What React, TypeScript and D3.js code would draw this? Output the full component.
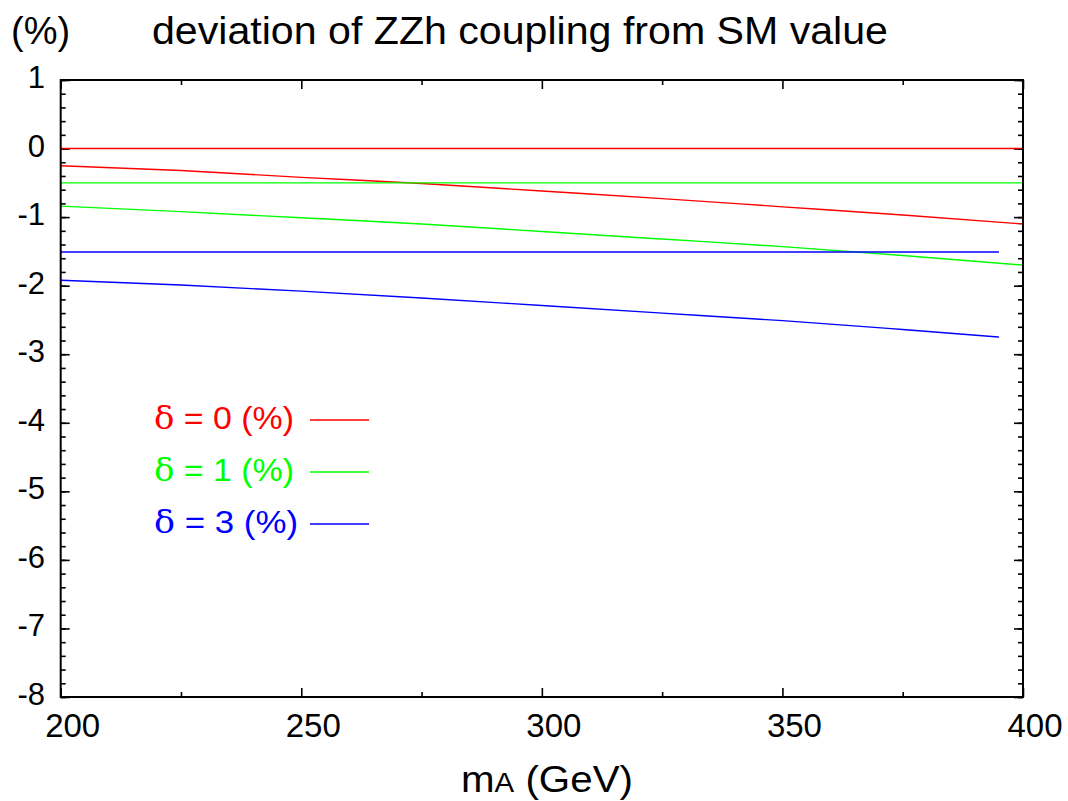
import React, { useEffect, useRef } from 'react'
import * as d3 from 'd3'

// m_A grid (GeV)
const massGrid = [200, 225, 250, 275, 300, 325, 350, 375, 400]
const massGridBlue = [200, 225, 250, 275, 300, 325, 350, 375, 395]

// deviation (%)
const red0Curve = [-0.25, -0.32, -0.42, -0.51, -0.62, -0.73, -0.85, -0.97, -1.1]
const green1Curve = [-0.84, -0.92, -1.01, -1.1, -1.21, -1.32, -1.43, -1.56, -1.7]
const blue3Curve = [-1.92, -1.99, -2.08, -2.18, -2.29, -2.4, -2.51, -2.64, -2.75]

// flat reference lines
const red0Flat = [0, 0]
const green1Flat = [-0.5, -0.5]
const blue3Flat = [-1.51, -1.51]
const flatX = [200, 400]
const flatXBlue = [200, 395]

const xTicks = [200, 250, 300, 350, 400]
const yTicks = [1, 0, -1, -2, -3, -4, -5, -6, -7, -8]

const legendLabels = ['0', '1', '3']
const colors = ['#ff0000', '#00ff00', '#0000ff']

const FONT = "'Liberation Sans', Arial, Helvetica, sans-serif"

export default function App() {
  const ref = useRef<SVGSVGElement>(null)

  useEffect(() => {
    const svg = d3.select(ref.current)
    svg.selectAll('*').remove()

    const left = 60.7, right = 1023, top = 80, bottom = 697
    const x = d3.scaleLinear().domain([200, 400]).range([left, right])
    const y = d3.scaleLinear().domain([-8, 1]).range([bottom, top])

    // ticks (inward)
    const minorY = d3.range(-8, 1.001, 0.2)
    const minorX = [225, 275, 325, 375]
    const addAxis = (ax: any, tr: string) => {
      const g = svg.append('g').attr('transform', tr).call(ax)
      g.select('.domain').remove()
      g.selectAll('line').attr('stroke', '#000').attr('stroke-width', 1.6)
      g.selectAll('text').remove()
    }
    addAxis(d3.axisLeft(y).tickValues(minorY).tickSize(-5), `translate(${left},0)`)
    addAxis(d3.axisLeft(y).tickValues(yTicks).tickSize(-9), `translate(${left},0)`)
    addAxis(d3.axisRight(y).tickValues(minorY).tickSize(-5), `translate(${right},0)`)
    addAxis(d3.axisRight(y).tickValues(yTicks).tickSize(-9), `translate(${right},0)`)
    addAxis(d3.axisBottom(x).tickValues(minorX).tickSize(-5), `translate(0,${bottom})`)
    addAxis(d3.axisBottom(x).tickValues(xTicks).tickSize(-9), `translate(0,${bottom})`)
    addAxis(d3.axisTop(x).tickValues(minorX).tickSize(-5), `translate(0,${top})`)
    addAxis(d3.axisTop(x).tickValues(xTicks).tickSize(-9), `translate(0,${top})`)

    // data lines
    const line = d3.line<[number, number]>().x(d => x(d[0])).y(d => y(d[1])).curve(d3.curveMonotoneX)
    const series: [number[], number[], string][] = [
      [flatX, red0Flat, colors[0]],
      [massGrid, red0Curve, colors[0]],
      [flatX, green1Flat, colors[1]],
      [massGrid, green1Curve, colors[1]],
      [flatXBlue, blue3Flat, colors[2]],
      [massGridBlue, blue3Curve, colors[2]],
    ]
    series.forEach(([xs, ys, c]) => {
      svg.append('path')
        .datum(xs.map((v, i) => [v, ys[i]] as [number, number]))
        .attr('d', line)
        .attr('fill', 'none')
        .attr('stroke', c)
        .attr('stroke-width', 1.4)
    })

    // frame
    svg.append('rect')
      .attr('x', left).attr('y', top)
      .attr('width', right - left).attr('height', bottom - top)
      .attr('fill', 'none').attr('stroke', '#000').attr('stroke-width', 2)

    // tick labels
    svg.append('g').selectAll('text').data(yTicks).enter().append('text')
      .attr('x', 45).attr('y', d => y(d) + 8)
      .attr('text-anchor', 'end')
      .attr('font-family', FONT).attr('font-size', 31)
      .text(d => String(d))
    svg.append('g').selectAll('text').data(xTicks).enter().append('text')
      .attr('x', d => x(d) + 12).attr('y', 737)
      .attr('text-anchor', 'middle')
      .attr('font-family', FONT).attr('font-size', 33)
      .text(d => String(d))

    // titles
    svg.append('text').attr('x', 11).attr('y', 44)
      .attr('font-family', FONT).attr('font-size', 38).text('(%)')
    svg.append('text').attr('x', 152).attr('y', 44)
      .attr('font-family', FONT).attr('font-size', 38)
      .attr('textLength', 736).attr('lengthAdjust', 'spacingAndGlyphs')
      .text('deviation of ZZh coupling from SM value')

    const xl = svg.append('text').attr('x', 461).attr('y', 792).attr('font-family', FONT)
      .attr('textLength', 172).attr('lengthAdjust', 'spacingAndGlyphs')
    xl.append('tspan').attr('font-size', 37).text('m')
    xl.append('tspan').attr('font-size', 27).text('A')
    xl.append('tspan').attr('font-size', 37).text(' (GeV)')

    // legend
    legendLabels.forEach((lab, i) => {
      const by = 429 + i * 52
      const t = svg.append('text').attr('x', 154).attr('y', by)
        .attr('font-family', FONT).attr('font-size', 32).attr('fill', colors[i])
        .attr('textLength', i === 2 ? 144 : 140).attr('lengthAdjust', 'spacingAndGlyphs')
      t.append('tspan').attr('font-family', "'DejaVu Serif', 'Liberation Serif', serif").text('δ')
      t.append('tspan').text(` = ${lab} (%)`)
      svg.append('line')
        .attr('x1', 310).attr('x2', 369)
        .attr('y1', by - 9).attr('y2', by - 9)
        .attr('stroke', colors[i]).attr('stroke-width', 1.4)
    })
  }, [])

  return (
    <svg ref={ref} width={1068} height={801}
      style={{ position: 'absolute', left: 0, top: 0, background: '#fff' }} />
  )
}
